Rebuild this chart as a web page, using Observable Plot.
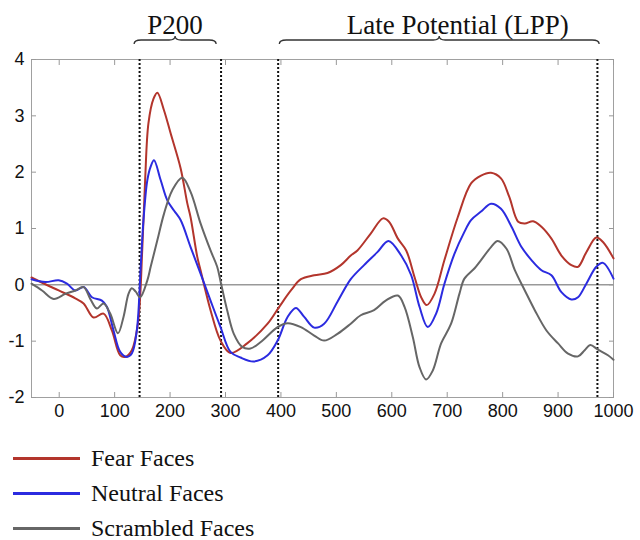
<!DOCTYPE html>
<html><head><meta charset="utf-8">
<script src="https://cdn.jsdelivr.net/npm/d3@7"></script>
<script src="https://cdn.jsdelivr.net/npm/@observablehq/plot@0.6"></script>
<style>
body{margin:0;background:#fff;}
#wrap{position:relative;width:640px;height:540px;overflow:hidden;}
#legend{position:absolute;left:0;top:441px;font-family:"Liberation Serif","Times New Roman",serif;font-size:24px;color:#111;}
.row{display:flex;align-items:center;height:35px;}
.sw{width:67px;height:3px;margin-left:13px;margin-right:11px;}
</style></head>
<body><div id="wrap"><div id="chart"></div><div id="legend"></div></div>
<script>
// ---- data ----
const seriesNames = ["Fear Faces", "Neutral Faces", "Scrambled Faces"];
const seriesColors = ["#b3352c", "#2b2be0", "#666666"];

const fearT = [-50,-25,-1,29,44,62,80,95,110,119,131,142,150,155,161,170,177,189,201,219,231,237,249,255,273,291,309,339,376,397,418,436,460,484,508,526,538,562,584,595,611,626,641,653,663,677,695,719,743,761,779,797,812,828,840,855,870,888,906,924,936,951,969,981,1000];
const fearV = [0.13,0.01,-0.1,-0.24,-0.33,-0.58,-0.51,-0.81,-1.25,-1.28,-1.16,-0.69,0.67,1.86,2.87,3.3,3.41,3.1,2.69,2.07,1.45,1.2,0.5,0.26,-0.45,-0.99,-1.21,-1.04,-0.69,-0.39,-0.1,0.1,0.17,0.21,0.35,0.52,0.61,0.91,1.18,1.12,0.82,0.61,0.14,-0.22,-0.36,-0.16,0.44,1.2,1.8,1.94,1.99,1.89,1.56,1.12,1.09,1.13,1.03,0.82,0.52,0.35,0.32,0.58,0.84,0.76,0.47];

const neutralT = [-50,-25,-1,14,29,44,59,77,86,98,110,122,131,140,147,152,159,165,171,183,195,207,219,237,255,273,291,309,327,351,376,394,412,427,442,460,478,502,526,550,574,594,617,635,650,665,680,695,713,731,743,761,779,797,816,834,852,870,888,906,924,936,951,969,981,1000];
const neutralV = [0.1,0.05,0.08,0.02,-0.1,-0.04,-0.22,-0.28,-0.39,-0.81,-1.19,-1.28,-1.22,-0.81,0.32,1.15,1.86,2.1,2.21,1.86,1.5,1.32,1.15,0.67,0.2,-0.28,-0.75,-1.19,-1.29,-1.36,-1.25,-0.99,-0.57,-0.41,-0.57,-0.76,-0.69,-0.3,0.1,0.35,0.58,0.78,0.52,0.17,-0.39,-0.75,-0.51,0.02,0.55,0.94,1.15,1.3,1.44,1.35,1.03,0.67,0.44,0.26,0.17,-0.13,-0.26,-0.22,0.02,0.32,0.39,0.11];

const scrambledT = [-50,-31,-10,11,29,44,56,68,80,92,106,116,125,131,138,146,159,165,177,189,204,222,237,255,273,285,292,303,315,330,345,363,394,412,436,460,478,502,526,544,568,589,611,623,638,650,662,674,689,707,722,731,749,761,779,791,807,822,840,858,879,900,918,936,948,958,972,990,1000];
const scrambledV = [0.02,-0.1,-0.25,-0.16,-0.1,-0.04,-0.25,-0.42,-0.33,-0.51,-0.86,-0.57,-0.16,-0.06,-0.12,-0.22,0.08,0.32,0.79,1.26,1.68,1.9,1.65,1.09,0.61,0.32,0.02,-0.45,-0.87,-1.1,-1.13,-1.02,-0.75,-0.68,-0.75,-0.9,-0.99,-0.87,-0.69,-0.54,-0.45,-0.28,-0.19,-0.39,-0.93,-1.46,-1.68,-1.52,-1.04,-0.69,-0.16,0.11,0.29,0.44,0.67,0.78,0.64,0.26,-0.1,-0.45,-0.81,-1.04,-1.22,-1.27,-1.16,-1.07,-1.15,-1.25,-1.33];

const xTicks = [0,100,200,300,400,500,600,700,800,900,1000];
const yTicks = [-2,-1,0,1,2,3,4];
const windowBounds = [145, 292, 395, 971];
const braceLabels = ["P200", "Late Potential (LPP)"];
const braceStart = [136, 398];
const braceEnd = [284, 975];
const braceLabelX = [210, 720];

// ---- build ----
const toRows = (T, V, name) => T.map((t, i) => ({t, v: V[i], name}));
const rows = [
  ...toRows(fearT, fearV, seriesNames[0]),
  ...toRows(neutralT, neutralV, seriesNames[1]),
  ...toRows(scrambledT, scrambledV, seriesNames[2])
];

function braces(index, scales, values, dimensions) {
  const ns = "http://www.w3.org/2000/svg";
  const g = document.createElementNS(ns, "g");
  const top = dimensions.marginTop;
  braceLabels.forEach((lab, i) => {
    const x0 = scales.x(braceStart[i]), x1 = scales.x(braceEnd[i]);
    const m = (x0 + x1) / 2;
    const yE = top - 15, yF = top - 19, yC = top - 23;
    const p = document.createElementNS(ns, "path");
    p.setAttribute("d",
      `M${x0},${yE} Q${x0},${yF} ${x0 + 7},${yF} L${m - 6},${yF} Q${m},${yF} ${m},${yC} Q${m},${yF} ${m + 6},${yF} L${x1 - 7},${yF} Q${x1},${yF} ${x1},${yE}`);
    p.setAttribute("fill", "none");
    p.setAttribute("stroke", "#333");
    p.setAttribute("stroke-width", "1.3");
    g.appendChild(p);
    const t = document.createElementNS(ns, "text");
    t.setAttribute("x", scales.x(braceLabelX[i]));
    t.setAttribute("y", top - 25);
    t.setAttribute("text-anchor", "middle");
    t.setAttribute("font-family", "Liberation Serif, Times New Roman, serif");
    t.setAttribute("font-size", "27");
    t.setAttribute("fill", "#111");
    t.textContent = lab;
    g.appendChild(t);
  });
  return g;
}

const fmt = d => String(d);

const chart = Plot.plot({
  width: 640,
  height: 430,
  marginLeft: 31,
  marginRight: 27,
  marginTop: 59,
  marginBottom: 33,
  style: {fontFamily: "Liberation Sans, Arial, sans-serif", fontSize: "18px", color: "#111", background: "#fff"},
  x: {domain: [-50, 1000]},
  y: {domain: [-2, 4]},
  marks: [
    Plot.frame({stroke: "#a0a0a0"}),
    Plot.axisX(xTicks, {anchor: "bottom", tickSize: -5, stroke: "#999", tickFormat: () => "", label: null}),
    Plot.axisX(xTicks, {anchor: "top", tickSize: -5, stroke: "#999", tickFormat: () => "", label: null}),
    Plot.axisY(yTicks, {anchor: "left", tickSize: -5, stroke: "#999", tickFormat: () => "", label: null}),
    Plot.axisY(yTicks, {anchor: "right", tickSize: -5, stroke: "#999", tickFormat: () => "", label: null}),
    Plot.axisX(xTicks, {anchor: "bottom", tickSize: 0, tickPadding: 7, tickFormat: fmt, label: null, fill: "#111"}),
    Plot.axisY(yTicks, {anchor: "left", tickSize: 0, tickPadding: 7, tickFormat: fmt, label: null, fill: "#111"}),
    Plot.ruleY([0], {stroke: "#999", strokeWidth: 1.5}),
    Plot.ruleX(windowBounds, {stroke: "#111", strokeWidth: 2, strokeDasharray: "2,2"}),
    Plot.line(rows, {x: "t", y: "v", z: "name", stroke: d => seriesColors[seriesNames.indexOf(d.name)], strokeWidth: 2, curve: "catmull-rom"}),
    braces
  ]
});
document.getElementById("chart").appendChild(chart);

const legend = document.getElementById("legend");
seriesNames.forEach((n, i) => {
  const row = document.createElement("div");
  row.className = "row";
  const sw = document.createElement("div");
  sw.className = "sw";
  sw.style.background = seriesColors[i];
  const lb = document.createElement("span");
  lb.textContent = n;
  row.appendChild(sw); row.appendChild(lb);
  legend.appendChild(row);
});
</script></body></html>
